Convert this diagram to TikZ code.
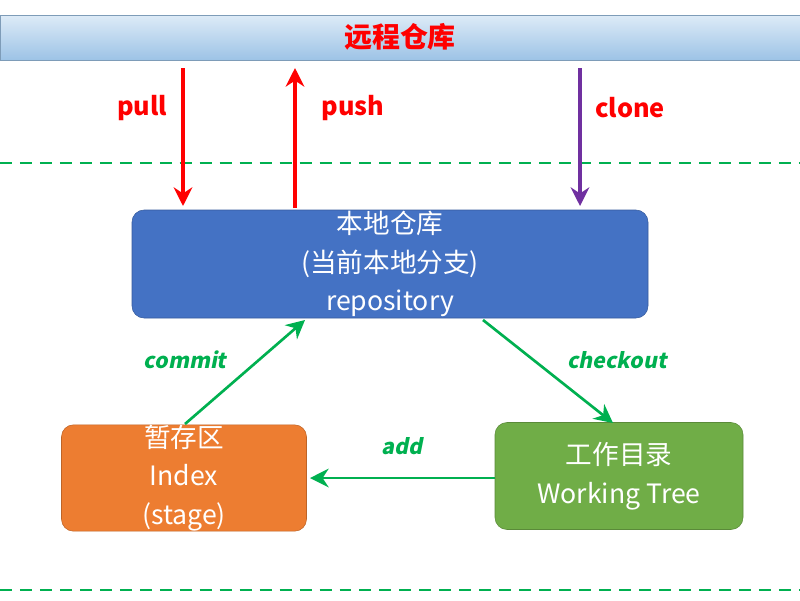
\documentclass[tikz,border=0pt]{standalone}
\usepackage{fontspec}
\setmainfont{Noto Sans CJK SC}
\newfontfamily\slantfont[FakeSlant=0.2]{Noto Sans CJK SC}
\usepackage{tikz}
\usetikzlibrary{arrows.meta,shadings}
\definecolor{repoblue}{HTML}{4472C4}
\definecolor{idxorange}{HTML}{ED7D31}
\definecolor{wtgreen}{HTML}{70AD47}
\definecolor{linegreen}{HTML}{00B050}
\definecolor{cloneviolet}{HTML}{7030A0}
\definecolor{bannertop}{HTML}{DDEBF7}
\definecolor{bannerbot}{HTML}{9DC3E6}
\tikzset{
  box/.style={draw=#1!80!black,fill=#1,rounded corners=9pt,text=white,align=center,
    inner sep=0pt,font=\fontsize{20}{29}\selectfont},
  flow/.style={line width=2.6pt,-{Stealth[length=14pt,width=14pt]}},
  lbl/.style={font=\bfseries\fontsize{19}{22}\selectfont,text=red},
  glbl/.style={font=\slantfont\bfseries\fontsize{16}{20}\selectfont,text=linegreen},
  sep/.style={linegreen,line width=1.5pt,dash pattern=on 9pt off 6pt}
}
\def\Sep#1{\draw [sep] (0,#1) -- (800,#1);}
\begin{document}
\begin{tikzpicture}[x=0.0264cm,y=-0.0264cm]
\useasboundingbox (0,0) rectangle (800,600);
% remote banner
\shade [top color=bannertop,bottom color=bannerbot,draw=bannerbot!80!black] (0,15) rectangle (800,60);
\node (remote) at (400,37) [lbl,font=\bfseries\fontsize{21}{24}\selectfont] {远程仓库};
\Sep{163} \Sep{590}
% boxes
\node (repo) [box=repoblue,minimum width=516*0.0264cm,minimum height=108*0.0264cm] at (390,264) {本地仓库\\(当前本地分支)\\repository};
\node (idx) [box=idxorange,minimum width=245*0.0264cm,minimum height=105*0.0264cm] at (184,478) {暂存区\\Index\\(stage)};
\node (wt) [box=wtgreen,minimum width=248*0.0264cm,minimum height=107*0.0264cm] at (619,476) {工作目录\\Working Tree};
% remote arrows
\coordinate (pullA) at (183,68); \coordinate (pullB) at (183,206);
\coordinate (pushA) at (295,208); \coordinate (pushB) at (295,68);
\coordinate (cloneA) at (580,68); \coordinate (cloneB) at (580,206);
\draw [flow,red] (pullA) -- (pullB);
\draw [flow,red] (pushA) -- (pushB);
\draw [flow,cloneviolet] (cloneA) -- (cloneB);
\node (pull) at (142,108) [lbl] {pull};
\node (push) at (353,108) [lbl] {push};
\node (clone) at (630,108) [lbl] {clone};
% local arrows
\coordinate (cmA) at (185,424); \coordinate (cmB) at (305,320);
\coordinate (coA) at (483,320); \coordinate (coB) at (613,423);
\coordinate (adA) at (495,478); \coordinate (adB) at (310,478);
\draw [flow,linegreen,line width=2pt] (cmA) -- (cmB);
\draw [flow,linegreen,line width=2pt] (coA) -- (coB);
\draw [flow,linegreen,line width=2pt] (adA) -- (adB);
\node (commit) at (185,360) [glbl] {commit};
\node (checkout) at (617,360) [glbl] {checkout};
\node (add) at (402,446) [glbl] {add};
\end{tikzpicture}
\end{document}
